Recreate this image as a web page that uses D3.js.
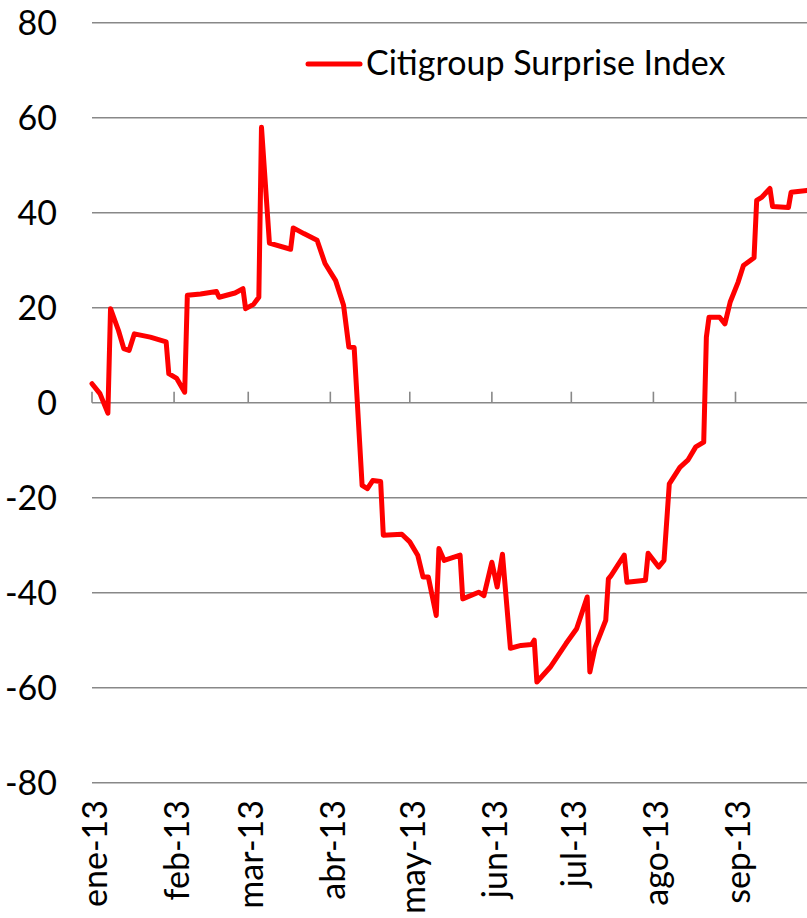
<!DOCTYPE html>
<html lang="es">
<head>
<meta charset="utf-8">
<title>Citigroup Surprise Index</title>
<script src="https://cdn.jsdelivr.net/npm/d3@7"></script>
<style>
  body { margin: 0; background: #fff; }
  svg { display: block; }
  text { font-family: Lato, "Open Sans", sans-serif; font-size: 34px; fill: #000; }
  .grid line { stroke: #888; stroke-width: 1.6; }
  .series { fill: none; stroke: #ff0000; stroke-width: 5; stroke-linejoin: round; stroke-linecap: round; }
</style>
</head>
<body>
<script>
// vertices (date, index value)
var dates = [
  '2013-01-01','2013-01-04','2013-01-07','2013-01-08','2013-01-11','2013-01-13','2013-01-15','2013-01-17',
  '2013-01-23','2013-01-29','2013-01-30','2013-02-02','2013-02-05','2013-02-06','2013-02-11','2013-02-17',
  '2013-02-18','2013-02-24','2013-02-27','2013-02-28','2013-03-03','2013-03-05','2013-03-06','2013-03-09',
  '2013-03-17','2013-03-18','2013-03-22','2013-03-27','2013-03-30','2013-04-03','2013-04-06','2013-04-08',
  '2013-04-10','2013-04-13','2013-04-15','2013-04-17','2013-04-20','2013-04-21','2013-04-28','2013-05-01',
  '2013-05-04','2013-05-06','2013-05-08','2013-05-11','2013-05-12','2013-05-14','2013-05-20','2013-05-21',
  '2013-05-27','2013-05-29','2013-06-01','2013-06-03','2013-06-05','2013-06-08','2013-06-12','2013-06-16',
  '2013-06-17','2013-06-18','2013-06-23','2013-06-29','2013-07-03','2013-07-07','2013-07-08','2013-07-10',
  '2013-07-14','2013-07-15','2013-07-16','2013-07-21','2013-07-22','2013-07-29','2013-07-30','2013-08-03',
  '2013-08-05','2013-08-07','2013-08-11','2013-08-14','2013-08-17','2013-08-20','2013-08-21','2013-08-22',
  '2013-08-26','2013-08-28','2013-08-30','2013-09-02','2013-09-04','2013-09-08','2013-09-09','2013-09-11',
  '2013-09-14','2013-09-15','2013-09-21','2013-09-22','2013-09-28'
];
var values = [
  4.0, 1.9, -2.2, 19.8, 15.2, 11.4, 11.0, 14.5,
  13.8, 12.8, 6.1, 5.1, 2.2, 22.6, 22.9, 23.4,
  22.2, 23.1, 24.0, 19.8, 20.7, 22.2, 58.0, 33.6,
  32.3, 36.8, 35.6, 34.2, 29.3, 25.7, 20.5, 11.7,
  11.6, -17.4, -18.1, -16.4, -16.6, -27.9, -27.7, -29.3,
  -32.1, -36.7, -36.7, -44.8, -30.7, -33.2, -32.1, -41.3,
  -39.9, -40.6, -33.6, -38.8, -31.9, -51.7, -51.1, -50.9,
  -50.0, -58.8, -55.7, -50.7, -47.6, -40.9, -56.7, -51.5,
  -45.8, -37.1, -36.4, -32.1, -37.8, -37.4, -31.7, -34.6,
  -33.2, -17.1, -13.6, -12.1, -9.3, -8.3, 13.8, 18.0,
  18.0, 16.6, 21.2, 25.4, 28.9, 30.5, 42.6, 43.3,
  45.1, 41.3, 41.1, 44.3, 44.7
];
var yTicks = [-80, -60, -40, -20, 0, 20, 40, 60, 80];
var monthNames = ['ene', 'feb', 'mar', 'abr', 'may', 'jun', 'jul', 'ago', 'sep'];
var seriesName = 'Citigroup Surprise Index';

var width = 807, height = 918;
var plotLeft = 92, plotRight = 807, plotTop = 22.7, plotBottom = 782.7;

var parse = d3.timeParse('%Y-%m-%d');
var data = dates.map(function(d, i){ return { date: parse(d), value: values[i] }; });

var x = d3.scaleTime()
  .domain([parse('2013-01-01'), parse('2013-09-28')])
  .range([plotLeft, plotRight]);
var y = d3.scaleLinear().domain([-80, 80]).range([plotBottom, plotTop]);

var svg = d3.select('body').append('svg')
  .attr('width', width)
  .attr('height', height);

// horizontal gridlines
svg.append('g').attr('class', 'grid')
  .selectAll('line')
  .data(yTicks)
  .enter().append('line')
  .attr('x1', plotLeft).attr('x2', plotRight)
  .attr('y1', function(d){ return y(d); })
  .attr('y2', function(d){ return y(d); });

// y tick labels
svg.append('g')
  .selectAll('text')
  .data(yTicks)
  .enter().append('text')
  .attr('x', 57)
  .attr('y', function(d){ return y(d); })
  .attr('dy', '0.35em')
  .attr('text-anchor', 'end')
  .text(function(d){ return d; });

// month ticks on the zero line
var months = d3.timeMonths(parse('2013-01-01'), parse('2013-09-02'));
svg.append('g').attr('class', 'grid')
  .selectAll('line')
  .data(months)
  .enter().append('line')
  .attr('x1', function(d){ return x(d); })
  .attr('x2', function(d){ return x(d); })
  .attr('y1', y(0) - 11)
  .attr('y2', y(0));

svg.append('g')
  .selectAll('text')
  .data(months)
  .enter().append('text')
  .attr('transform', function(d){ return 'translate(' + (x(d) + 3) + ',800) rotate(-90)'; })
  .attr('dy', '0.35em')
  .attr('text-anchor', 'end')
  .text(function(d, i){ return monthNames[i] + '-13'; });

// series
var line = d3.line()
  .x(function(d){ return x(d.date); })
  .y(function(d){ return y(d.value); });

svg.append('path')
  .datum(data)
  .attr('class', 'series')
  .attr('d', line);

// legend
svg.append('line')
  .attr('class', 'series')
  .attr('x1', 308).attr('x2', 360)
  .attr('y1', 64).attr('y2', 64);
svg.append('text')
  .attr('x', 366)
  .attr('y', 75)
  .text(seriesName);
</script>
</body>
</html>
